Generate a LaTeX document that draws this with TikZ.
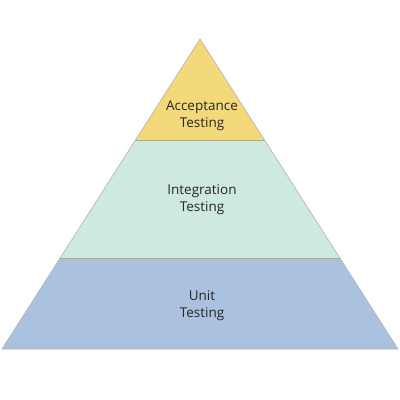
\documentclass[tikz,border=0pt]{standalone}
\usepackage{fontspec}
\setmainfont{Open Sans}
\usepackage{xcolor}

\begin{document}
\begin{tikzpicture}[x=1pt,y=-1pt]
    \definecolor{AcceptYellow}{HTML}{F3D97A}
    \definecolor{IntegCyan}{HTML}{CDE9E2}
    \definecolor{UnitBlue}{HTML}{AAC2DF}
    \definecolor{LayerEdge}{HTML}{B8A67E}
    \tikzset{layertext/.style={align=center,font=\fontsize{13.5}{17}\selectfont,text=black!85}}
    \useasboundingbox (0,0) rectangle (400,400);
    \coordinate (T) at (200,39);
    \coordinate (L) at (2,349);
    \coordinate (R) at (398,349);
    \path (T) -- (L) coordinate[pos=.3258](AL) coordinate[pos=.7065](IL);
    \path (T) -- (R) coordinate[pos=.3258](AR) coordinate[pos=.7065](IR);
    \fill[AcceptYellow] (T)--(AL)--(AR)--cycle;
    \fill[IntegCyan] (AL)--(IL)--(IR)--(AR)--cycle;
    \fill[UnitBlue] (IL)--(L)--(R)--(IR)--cycle;
    \draw[LayerEdge,line width=.8pt] (AL)--(AR);
    \draw[LayerEdge,line width=.8pt] (IL)--(IR);
    \draw[black!30,line width=.6pt,line join=round] (T)--(L)--(R)--cycle;
    \node[layertext] (accept) at (202,116) {Acceptance\\Testing};
    \node[layertext] (integ) at (202,200) {Integration\\Testing};
    \node[layertext] (unit) at (202,306) {Unit\\Testing};
\end{tikzpicture}
\end{document}
